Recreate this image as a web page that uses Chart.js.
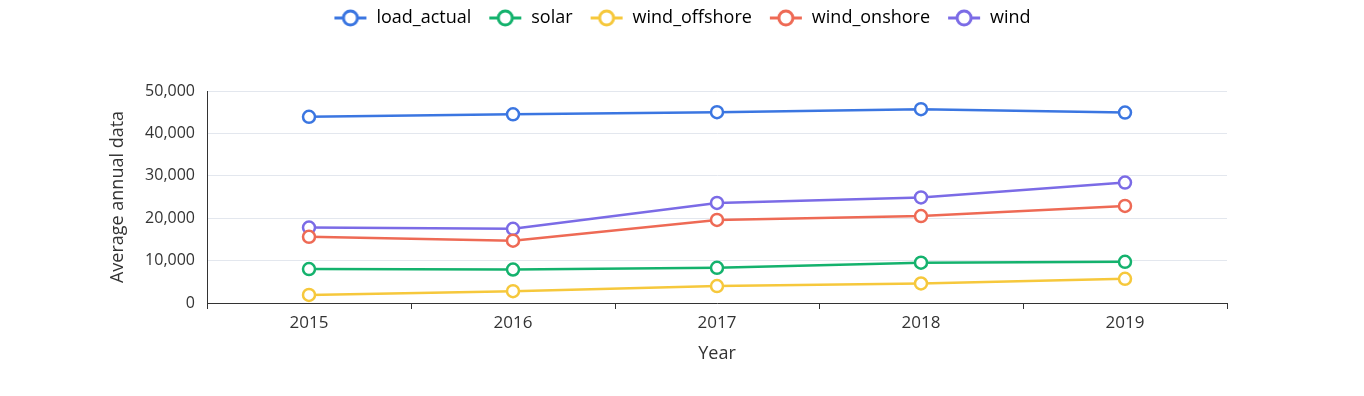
<!DOCTYPE html>
<html lang="en">
<head>
    <meta charset="UTF-8">
    <title>Average annual data</title>
    <script src="https://cdn.jsdelivr.net/npm/chart.js"></script>
    <style>
        html, body { margin: 0; padding: 0; background: #fff; }
        #wrap { width: 1364px; height: 396px; }
    </style>
</head>
<body>
    <div id="wrap"><canvas id="aqiChart"></canvas></div>

    <script>
        // Data
        const years = ["2015", "2016", "2017", "2018", "2019"];
        const loadActual = [43900, 44500, 45000, 45700, 44900];
        const solar = [8000, 7900, 8300, 9500, 9700];
        const windOffshore = [1900, 2800, 4000, 4600, 5700];
        const windOnshore = [15600, 14700, 19600, 20500, 22900];
        const wind = [17800, 17500, 23600, 24900, 28400];

        const seriesNames = ["load_actual", "solar", "wind_offshore", "wind_onshore", "wind"];
        const seriesData = [loadActual, solar, windOffshore, windOnshore, wind];
        const seriesColors = ["#3b76e1", "#14b26d", "#f6c83c", "#ee6a55", "#7b6be6"];

        const FONT = "'Open Sans', 'Noto Sans', sans-serif";
        Chart.defaults.font.family = FONT;
        Chart.defaults.color = "#333";

        // legend icon: short line with a hollow circle
        function legendIcon(color) {
            const c = document.createElement("canvas");
            c.width = 34; c.height = 18;
            const g = c.getContext("2d");
            g.strokeStyle = color;
            g.lineWidth = 3;
            g.beginPath(); g.moveTo(1, 9); g.lineTo(33, 9); g.stroke();
            g.fillStyle = "#fff";
            g.beginPath(); g.arc(17, 9, 7, 0, Math.PI * 2); g.fill(); g.stroke();
            return c;
        }

        // fixed legend band height, legend row pulled up and centred on the full width
        const legendHeight = {
            id: "legendHeight",
            afterInit(chart) {
                const fit = chart.legend.fit;
                chart.legend.fit = function () { fit.call(this); this.height = 91; };
            },
            afterLayout(chart) {
                const lg = chart.legend;
                lg.top -= 8;
                lg.left = 0;
                lg.right = chart.width;
                lg.width = chart.width;
            }
        };

        new Chart(document.getElementById("aqiChart"), {
            type: "line",
            data: {
                labels: years,
                datasets: seriesNames.map((name, i) => ({
                    label: name,
                    data: seriesData[i],
                    borderColor: seriesColors[i],
                    backgroundColor: "#fff",
                    borderWidth: 2.5,
                    pointRadius: 6,
                    pointBorderWidth: 2.5,
                    pointBackgroundColor: "#fff",
                    pointBorderColor: seriesColors[i],
                    tension: 0,
                    fill: false
                }))
            },
            options: {
                responsive: true,
                maintainAspectRatio: false,
                animation: false,
                layout: { padding: { left: 0, right: 137, top: 0, bottom: 0 } },
                plugins: {
                    tooltip: { enabled: false },
                    legend: {
                        position: "top",
                        align: "center",
                        labels: {
                            usePointStyle: true,
                            pointStyleWidth: 34,
                            padding: 17,
                            boxHeight: 18,
                            color: "#333",
                            font: { size: 18 },
                            generateLabels(chart) {
                                return chart.data.datasets.map((ds, i) => ({
                                    text: ds.label,
                                    pointStyle: legendIcon(ds.borderColor),
                                    fillStyle: "#fff",
                                    strokeStyle: ds.borderColor,
                                    lineWidth: 0,
                                    hidden: false,
                                    datasetIndex: i
                                }));
                            }
                        }
                    }
                },
                scales: {
                    x: {
                        offset: true,
                        grid: {
                            offset: true,
                            display: true,
                            drawOnChartArea: false,
                            drawTicks: true,
                            tickLength: 6,
                            color: "#333",
                            tickWidth: 1
                        },
                        border: { display: true, color: "#333", width: 1 },
                        ticks: { padding: 4, font: { size: 17 }, color: "#333" },
                        title: {
                            display: true,
                            text: "Year",
                            font: { size: 18 },
                            color: "#333",
                            padding: { top: 0, bottom: 31 }
                        },
                        afterFit(scale) { scale.height = 93; }
                    },
                    y: {
                        min: 0,
                        max: 50000,
                        ticks: {
                            stepSize: 10000,
                            padding: 12,
                            font: { size: 16 },
                            color: "#333",
                            callback: v => v.toLocaleString("en-US")
                        },
                        grid: { color: "#e3e7ee", drawTicks: false, lineWidth: 1 },
                        border: { display: true, color: "#333", width: 1 },
                        title: {
                            display: true,
                            text: "Average annual data",
                            font: { size: 18 },
                            color: "#333",
                            padding: { top: 107, bottom: 0 }
                        },
                        afterFit(scale) { scale.width = 207; }
                    }
                }
            },
            plugins: [legendHeight]
        });
    </script>
</body>
</html>
